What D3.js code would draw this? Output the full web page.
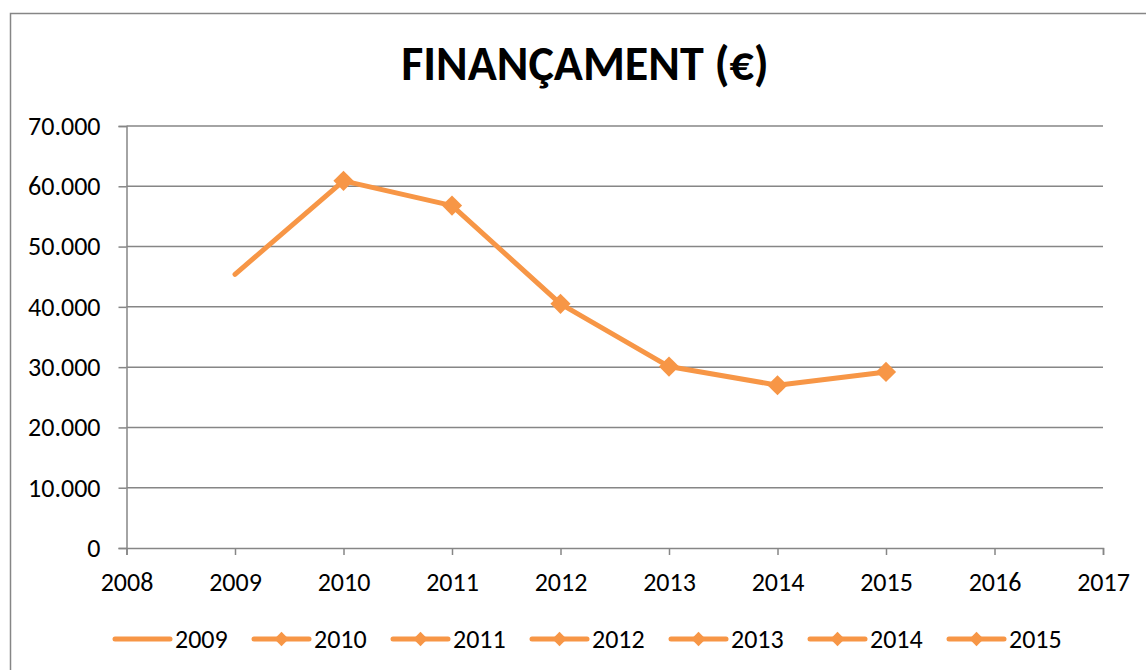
<!DOCTYPE html>
<html>
<head>
<meta charset="utf-8">
<script src="https://cdn.jsdelivr.net/npm/d3@7"></script>
<style>
    body { margin: 0; background: #fff; }
    text { font-family: Carlito, Lato, "Open Sans", sans-serif; fill: #000; }
</style>
</head>
<body>
<div id="chart"></div>
<script>
// data
var chartTitle = "FINANÇAMENT (€)";
var seriesNames = ["2009", "2010", "2011", "2012", "2013", "2014", "2015"];
var years = [2009, 2010, 2011, 2012, 2013, 2014, 2015];
var values = [45400, 60900, 56800, 40500, 30100, 27000, 29200];
var xTicks = [2008, 2009, 2010, 2011, 2012, 2013, 2014, 2015, 2016, 2017];
var yTicks = [0, 10000, 20000, 30000, 40000, 50000, 60000, 70000];

function drawChart(){
    var width = 1146;
    var height = 670;
    var orange = "#F79646";
    var gridGrey = "#868686";

    var svg = d3.select("#chart").append("svg")
        .attr("width", width)
        .attr("height", height);

    /*****************  Frame **********************/
    svg.append("rect")
        .attr("x", 10.5)
        .attr("y", 13.5)
        .attr("width", width)
        .attr("height", height)
        .attr("fill", "#fff")
        .attr("stroke", gridGrey)
        .attr("stroke-width", 1.5);

    svg.append("text")
        .attr("x", 585)
        .attr("y", 80)
        .attr("text-anchor", "middle")
        .attr("font-weight", "bold")
        .attr("font-size", "48px")
        .text(chartTitle);

    /*****************  Scales **********************/
    var x = d3.scaleLinear().domain([2008, 2017]).range([126.5, 1103]);
    var y = d3.scaleLinear().domain([0, 70000]).range([548, 126]);

    var locale = d3.formatLocale({ decimal: ",", thousands: ".", grouping: [3], currency: ["", "€"] });
    var fmt = locale.format(",");

    /*****************  Grid + axes **********************/
    svg.append("g")
        .selectAll("line")
        .data(yTicks.slice(1))
        .enter()
        .append("line")
        .attr("x1", x(2008))
        .attr("x2", x(2017))
        .attr("y1", function (d){ return y(d); })
        .attr("y2", function (d){ return y(d); })
        .attr("stroke", gridGrey)
        .attr("stroke-width", 1.5);

    var yAxis = svg.append("g")
        .attr("transform", "translate(" + x(2008) + ",0)")
        .call(d3.axisLeft(y).tickValues(yTicks).tickFormat(fmt).tickSize(8).tickPadding(18));

    var xAxis = svg.append("g")
        .attr("transform", "translate(0," + y(0) + ")")
        .call(d3.axisBottom(x).tickValues(xTicks).tickFormat(d3.format("d")).tickSize(7).tickPadding(18));

    [xAxis, yAxis].forEach(function (a){
        a.select(".domain").attr("stroke", gridGrey).attr("stroke-width", 1.5);
        a.selectAll(".tick line").attr("stroke", gridGrey).attr("stroke-width", 1.5);
        a.selectAll(".tick text")
            .attr("font-size", "26px")
            .attr("font-family", "Carlito, Lato, sans-serif")
            .attr("fill", "#000");
    });

    /*****************  Line **********************/
    var points = years.map(function (yr, i){
        return { name: seriesNames[i], year: yr, value: values[i] };
    });

    var line = d3.line()
        .x(function (d){ return x(d.year); })
        .y(function (d){ return y(d.value); });

    svg.append("path")
        .datum(points)
        .attr("d", line)
        .attr("fill", "none")
        .attr("stroke", orange)
        .attr("stroke-width", 5)
        .attr("stroke-linecap", "round")
        .attr("stroke-linejoin", "round");

    var diamond = d3.symbol().type(d3.symbolDiamond2);

    svg.selectAll(".marker")
        .data(points.filter(function (d){ return d.name !== "2009"; }))
        .enter()
        .append("path")
        .attr("class", "marker")
        .attr("transform", function (d){ return "translate(" + x(d.year) + "," + y(d.value) + ")"; })
        .attr("d", diamond.size(260))
        .attr("fill", orange);

    /*****************  Legend **********************/
    var legend = svg.selectAll(".legendItem")
        .data(seriesNames)
        .enter()
        .append("g")
        .attr("class", "legendItem")
        .attr("transform", function (d, i){ return "translate(" + (115 + i * 139) + ",639)"; });

    legend.append("line")
        .attr("x1", 0)
        .attr("x2", 55)
        .attr("stroke", orange)
        .attr("stroke-width", 5)
        .attr("stroke-linecap", "round");

    legend.filter(function (d){ return d !== "2009"; })
        .append("path")
        .attr("transform", "translate(27.5,0)")
        .attr("d", diamond.size(130))
        .attr("fill", orange);

    legend.append("text")
        .attr("x", 60)
        .attr("y", 0)
        .attr("dy", "0.33em")
        .attr("font-size", "26px")
        .text(function (d){ return d; });
}

drawChart();
</script>
</body>
</html>
